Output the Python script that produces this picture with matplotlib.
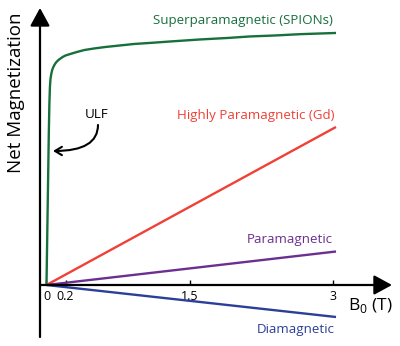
import matplotlib
matplotlib.use("Agg")
import matplotlib.pyplot as plt

# ---- data (arbitrary magnetization units) ----
spion_b = [0, 0.008, 0.016, 0.024, 0.030, 0.036, 0.042, 0.050, 0.060, 0.072,
           0.086, 0.10, 0.12, 0.14, 0.17, 0.20, 0.25, 0.32, 0.40, 0.50,
           0.62, 0.77, 0.92, 1.08, 1.30, 1.61, 1.90, 2.13, 2.40, 2.66, 3.035]
spion_m = [0, 50, 100, 150, 180, 198, 206, 211, 215, 218,
           220.5, 222.5, 224.5, 226, 228, 229.5, 231, 233, 235, 236.5,
           238, 239.5, 241, 242, 243.5, 245.5, 247, 248.5, 249.5, 250.8, 252]
gd_b = [0, 3.035]
gd_m = [0, 158]
para_b = [0, 3.035]
para_m = [0, 33.5]
dia_b = [0, 3.035]
dia_m = [0, -32]
tick_vals = [0, 0.2, 1.5, 3]
tick_labels = ["0", "0.2", "1.5", "3"]

FONT = ["Open Sans", "DejaVu Sans"]
plt.rcParams['font.family'] = FONT

green = "#17703c"
red = "#ef4136"
purple = "#6b2f8f"
blue = "#2b3f98"

fig = plt.figure(figsize=(4.0, 3.46), dpi=100)
x0, x1 = -0.068, 3.622
y0, y1 = -52, 277
ax = fig.add_axes([0.1, 0.026, 0.88, 0.951])
ax.set_xlim(x0, x1)
ax.set_ylim(y0, y1)
for s in ax.spines.values():
    s.set_visible(False)
ax.set_yticks([])

# axes with arrows
ax.annotate("", xy=(x1, 0), xytext=(x0, 0), annotation_clip=False,
            arrowprops=dict(arrowstyle="-|>,head_length=1.1,head_width=0.6",
                            lw=1.6, color="black", mutation_scale=10,
                            shrinkA=0, shrinkB=0))
ax.annotate("", xy=(x0, y1), xytext=(x0, y0), annotation_clip=False,
            arrowprops=dict(arrowstyle="-|>,head_length=1.1,head_width=0.6",
                            lw=1.6, color="black", mutation_scale=10,
                            shrinkA=0, shrinkB=0))

# ticks on the x axis at zero
ax.set_xticks(tick_vals)
ax.set_xticklabels(tick_labels)
ax.tick_params(axis='x', direction='in', length=3.5, width=1, pad=3.5,
               labelsize=9, bottom=True, top=False)
ax.spines['bottom'].set_position(('data', 0))

# curves
lw = 1.7
ax.plot(spion_b, spion_m, color=green, lw=lw, solid_capstyle='butt',
        solid_joinstyle='round')
ax.plot(gd_b, gd_m, color=red, lw=lw, solid_capstyle='butt')
ax.plot(para_b, para_m, color=purple, lw=lw, solid_capstyle='butt')
ax.plot(dia_b, dia_m, color=blue, lw=lw, solid_capstyle='butt')

fs = 9.6
ax.text(3.003, 264, "Superparamagnetic (SPIONs)", color=green, fontsize=fs,
        ha='right', va='center')
ax.text(3.024, 169, "Highly Paramagnetic (Gd)", color=red, fontsize=fs,
        ha='right', va='center')
ax.text(3.003, 45, "Paramagnetic", color=purple, fontsize=fs,
        ha='right', va='center')
ax.text(3.024, -44, "Diamagnetic", color=blue, fontsize=fs,
        ha='right', va='center')
ax.text(0.524, 170, "ULF", color="black", fontsize=fs, ha='center', va='center')
ax.text(3.16, -21, r"B$_{\mathregular{0}}$ (T)", color="black", fontsize=12.5,
        ha='left', va='center')

ax.annotate("", xy=(0.068, 134), xytext=(0.54, 160),
            arrowprops=dict(arrowstyle="->,head_length=0.5,head_width=0.3",
                            lw=1.5, color="black", mutation_scale=10,
                            shrinkA=0, shrinkB=0,
                            connectionstyle="angle3,angleA=90,angleB=0"))

fig.text(16 / 400, 1 - 93 / 346, "Net Magnetization", rotation=90,
         fontsize=13.5, ha='center', va='center')

fig.savefig("out.png", dpi=100)
